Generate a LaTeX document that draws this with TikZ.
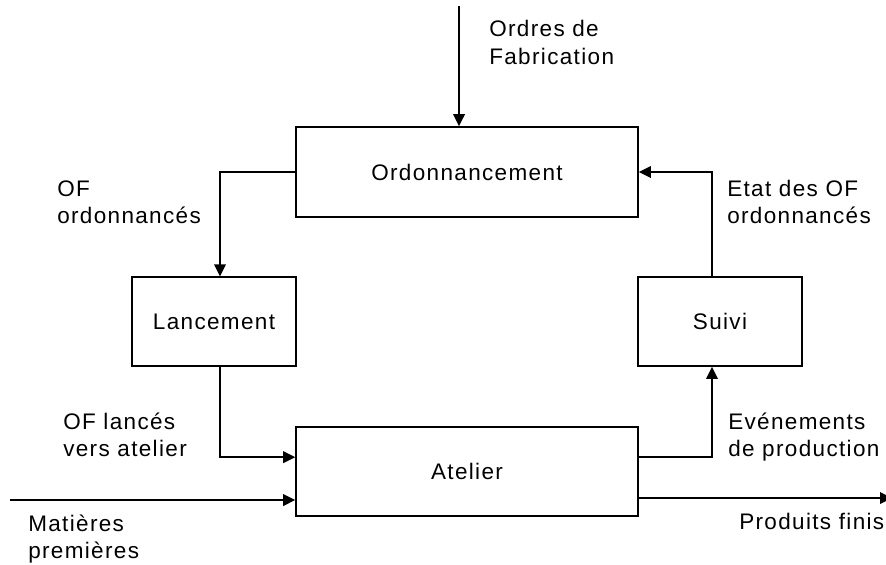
\documentclass[tikz,border=0pt]{standalone}
\usepackage{fontspec}
\setmainfont{Liberation Sans}[LetterSpace=6]
\usetikzlibrary{arrows.meta}

\begin{document}
\begin{tikzpicture}[
  box/.style={draw, line width=1.1pt, minimum width=85.5mm, minimum height=22.5mm, align=center, inner sep=0pt},
  smallbox/.style={box, minimum width=41mm, minimum height=22.25mm},
  lbl/.style={anchor=base west, align=left, inner sep=0pt},
  line/.style={-{Triangle[length=3mm,width=2.9mm]}, line width=1.1pt},
  font=\fontsize{16pt}{19.5pt}\selectfont
]
\useasboundingbox (0,0) rectangle (221.5mm,-141mm);

\node[box] (ord) at (116.75mm,-43mm) {Ordonnancement};
\node[smallbox] (lanc) at (53.5mm,-80.4mm) {Lancement};
\node[smallbox] (suivi) at (180mm,-80.4mm) {Suivi};
\node[box, minimum height=22.25mm] (atel) at (116.75mm,-117.9mm) {Atelier};

\coordinate (ofin) at (114.75mm,-1.5mm);
\coordinate (mpin) at (2.5mm,-125mm);
\coordinate (pfout) at (223mm,-124.5mm);

% base = last line of each label
\node[lbl] (ordres) at (122.25mm,-16mm) {Ordres de\\Fabrication};
\node[lbl] (ofordo) at (14.25mm,-55.9mm) {OF\\ordonnancés};
\node[lbl] (etat) at (181.75mm,-55.9mm) {Etat des OF\\ordonnancés};
\node[lbl] (oflance) at (15.75mm,-114.15mm) {OF lancés\\vers atelier};
\node[lbl] (evts) at (182mm,-114.15mm) {Evénements\\de production};
\node[lbl] (matieres) at (7mm,-139.65mm) {Matières\\premières};
\node[lbl] (produits) at (184.75mm,-132.25mm) {Produits finis};

\draw[line] (ofin) -- (ofin |- ord.north);
\draw[line] (ord.west) -| ([xshift=1.5mm]lanc.north);
\draw[line] ([xshift=1.5mm]lanc.south) |- ([yshift=3.6mm]atel.west);
\draw[line] (mpin) -- (mpin -| atel.west);
\draw[line] ([yshift=3.6mm]atel.east) -| ([xshift=-2mm]suivi.south);
\draw[line] ([xshift=-2mm]suivi.north) |- (ord.east);
\draw[line] (atel.east |- pfout) -- (pfout);
\end{tikzpicture}
\end{document}
